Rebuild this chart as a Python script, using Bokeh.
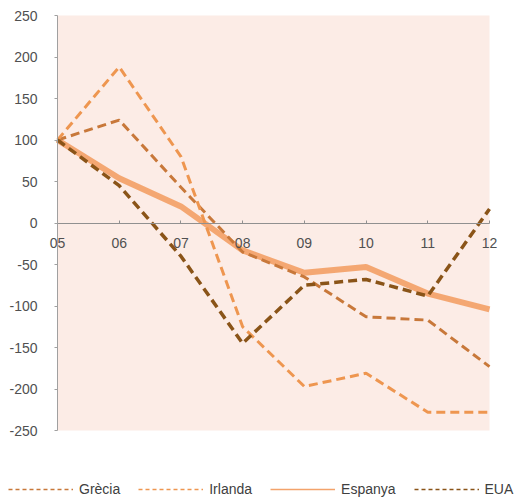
from bokeh.plotting import figure
from bokeh.models import FixedTicker, Legend, LegendItem, BoxAnnotation
from bokeh.embed import file_html
from bokeh.resources import INLINE

# Index (2005 = 100) per year
years = ["05", "06", "07", "08", "09", "10", "11", "12"]
grecia = [100, 124, 43, -35, -65, -113, -117, -173]
irlanda = [100, 188, 80, -125, -197, -181, -228, -228]
espanya = [100, 54, 20, -33, -60, -53, -85, -104]
eua = [100, 45, -40, -145, -75, -68, -88, 17]
y_ticks = [-250, -200, -150, -100, -50, 0, 50, 100, 150, 200, 250]

xs = list(range(len(years)))
blank = [float("nan")] * len(xs)

FONT = "Liberation Sans"
C_GRE = "#C8783A"
C_IRL = "#EE9650"
C_ESP = "#F3A36B"
C_EUA = "#8A5418"

# page layout (pixels): shaded plotting box inside a full-canvas frame
W, H = 518, 502
BOX_L, BOX_R, BOX_T, BOX_B = 57, 489, 15, 430
x0, x1 = xs[0], xs[-1]
y0, y1 = y_ticks[0], y_ticks[-1]
sx = (BOX_R - BOX_L) / (x1 - x0)
sy = (BOX_B - BOX_T) / (y1 - y0)
x_range = (x0 - BOX_L / sx, x1 + (W - BOX_R) / sx)
y_range = (y0 - (H - BOX_B) / sy, y1 + BOX_T / sy)

p = figure(width=W, height=H, output_backend="svg", toolbar_location=None,
           x_range=x_range, y_range=y_range,
           min_border=0)
p.background_fill_color = "white"
p.border_fill_color = "white"
p.outline_line_color = None
p.grid.visible = False

p.add_layout(BoxAnnotation(left=x0, right=x1, bottom=y0, top=y1,
                           fill_color="#FCECE6", fill_alpha=1, line_color=None,
                           level="underlay"))

# y axis along the first year
p.yaxis.fixed_location = x0
p.yaxis.bounds = (y0, y1)
p.yaxis.ticker = FixedTicker(ticks=y_ticks)
p.yaxis.major_label_overrides = {t: str(t) for t in y_ticks}
p.yaxis.axis_line_color = "#A0A0A0"
p.yaxis.major_tick_line_color = "#A0A0A0"
p.yaxis.major_tick_out = 3
p.yaxis.major_tick_in = 0
p.yaxis.minor_tick_line_color = None
p.yaxis.major_label_standoff = 17
p.yaxis.major_label_text_font = FONT
p.yaxis.major_label_text_font_size = "14px"
p.yaxis.major_label_text_color = "#505050"

# x axis across the zero line
p.xaxis.fixed_location = 0
p.xaxis.bounds = (x0, x1)
p.xaxis.ticker = FixedTicker(ticks=xs)
p.xaxis.major_label_overrides = {i: y for i, y in enumerate(years)}
p.xaxis.axis_line_color = "#909090"
p.xaxis.major_tick_line_color = "#909090"
p.xaxis.major_tick_in = 3
p.xaxis.major_tick_out = 0
p.xaxis.minor_tick_line_color = None
p.xaxis.major_label_standoff = 15
p.xaxis.major_label_text_font = FONT
p.xaxis.major_label_text_font_size = "14px"
p.xaxis.major_label_text_color = "#505050"

p.line(xs, espanya, line_color=C_ESP, line_width=6, line_alpha=0.95)
p.line(xs, grecia, line_color=C_GRE, line_width=3, line_dash="9 5")
p.line(xs, irlanda, line_color=C_IRL, line_width=3, line_dash="9 5")
p.line(xs, eua, line_color=C_EUA, line_width=3.5, line_dash="9 5")

# thin swatches for the legend (no visible data of their own)
sw_gre = p.line(xs, blank, line_color=C_GRE, line_width=1.3, line_dash="4 3")
sw_irl = p.line(xs, blank, line_color=C_IRL, line_width=1.3, line_dash="4 3")
sw_esp = p.line(xs, blank, line_color=C_ESP, line_width=1.6)
sw_eua = p.line(xs, blank, line_color=C_EUA, line_width=1.3, line_dash="4 3")

legend = Legend(items=[
    LegendItem(label="Grècia", renderers=[sw_gre]),
    LegendItem(label="Irlanda", renderers=[sw_irl]),
    LegendItem(label="Espanya", renderers=[sw_esp]),
    LegendItem(label="EUA", renderers=[sw_eua]),
], orientation="horizontal", location=(8, 5),
    glyph_width=65, glyph_height=12, label_standoff=6, spacing=18,
    padding=0, margin=0, border_line_color=None, background_fill_alpha=0,
    label_text_font=FONT, label_text_font_size="14px", label_text_color="#404040")
p.add_layout(legend, "center")

open("out.html", "w").write(file_html(p, INLINE))
